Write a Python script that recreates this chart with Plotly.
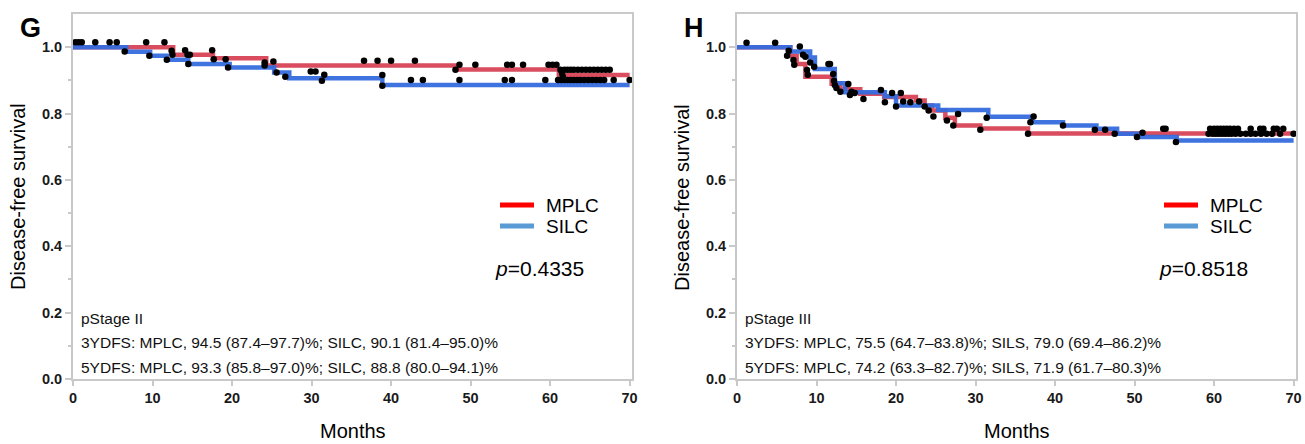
import plotly.graph_objects as go

W, H = 1305, 444

# ---------------- data ----------------
# Panel G (pStage II) Kaplan-Meier step curves
g_mplc_t = [0, 12.6, 17.6, 24.3, 48.3, 61.1, 70]
g_mplc_s = [1.0, 0.977, 0.967, 0.945, 0.933, 0.916, 0.916]
g_silc_t = [0, 6.7, 9.7, 11.8, 14.5, 19.7, 25.3, 27.2, 38.9, 70]
g_silc_s = [1.0, 0.986, 0.974, 0.962, 0.949, 0.939, 0.924, 0.906, 0.886, 0.886]
# censor marks
g_cens_t = [0.3, 0.7, 1.1, 2.8, 4.6, 5.5, 6.5, 9.2, 9.6, 11.5, 11.8, 12.4, 12.5, 14.1, 14.4, 14.7,
            14.5, 17.5, 17.7, 19.2, 19.5, 24.1, 24.1, 25.2, 25.6, 26.7, 29.9, 30.5, 31.6, 31.3,
            36.6, 38.3, 40.0, 43.0, 38.9, 38.9, 42.5, 44.0, 48.6, 48.1, 50.6, 48.6,
            54.6, 55.2, 56.6, 54.3, 55.2, 59.4, 59.8, 60.3, 60.8,
            61.3, 61.8, 62.2, 62.6, 63.0, 63.5, 64.0, 64.5, 65.0, 65.5, 66.0, 66.5, 67.0, 67.5,
            61.0, 61.4, 61.8, 62.2, 62.6, 63.0, 63.4, 63.8, 64.3, 64.8, 65.3, 65.8, 66.3, 66.8, 68.0, 70.0,
            61.5, 61.6]
g_cens_s = [1.015, 1.015, 1.015, 1.015, 1.015, 1.015, 0.987, 1.015, 0.974, 1.015, 0.962, 0.989, 0.977, 0.991, 0.977, 0.977,
            0.949, 0.991, 0.964, 0.964, 0.939, 0.954, 0.945, 0.957, 0.924, 0.911, 0.927, 0.927, 0.917, 0.899,
            0.959, 0.959, 0.959, 0.959, 0.916, 0.884, 0.901, 0.901, 0.947, 0.932, 0.947, 0.901,
            0.947, 0.947, 0.947, 0.901, 0.901, 0.901, 0.947, 0.947, 0.947,
            0.932, 0.932, 0.932, 0.932, 0.932, 0.932, 0.932, 0.932, 0.932, 0.932, 0.932, 0.932, 0.932, 0.932,
            0.901, 0.901, 0.901, 0.901, 0.901, 0.901, 0.901, 0.901, 0.901, 0.901, 0.901, 0.901, 0.901, 0.901, 0.901, 0.901,
            0.922, 0.912]

# Panel H (pStage III)
h_mplc_t = [0, 6.7, 7.5, 8.6, 11.9, 13.0, 15.5, 18.5, 22.5, 23.6, 24.5, 26.2, 27.4, 30.6, 36.6, 70]
h_mplc_s = [1.0, 0.974, 0.949, 0.911, 0.89, 0.873, 0.86, 0.85, 0.839, 0.824, 0.809, 0.787, 0.764, 0.755, 0.740, 0.740]
h_silc_t = [0, 6.7, 9.2, 9.8, 12.3, 13.6, 18.6, 20.0, 25.3, 31.6, 37.1, 41.0, 45.2, 47.8, 50.7, 55.3, 70]
h_silc_s = [1.0, 0.987, 0.969, 0.934, 0.891, 0.864, 0.852, 0.824, 0.811, 0.790, 0.774, 0.764, 0.754, 0.739, 0.729, 0.719, 0.719]
h_cens_t = [1.2, 4.8, 7.9, 6.5, 6.3, 7.1, 7.2, 8.3, 8.6, 9.2, 9.7, 8.8, 8.9, 11.5, 11.7,
            12.1, 12.2, 12.3, 12.5, 13.0, 14.0, 14.4, 14.2, 14.8, 15.9, 18.1, 18.6, 19.5, 20.0,
            20.6, 20.9, 21.8, 22.9, 23.6, 24.1, 24.7, 26.4, 27.2, 27.8, 30.6, 31.4,
            37.3, 36.9, 36.6, 41.0, 45.0, 46.3, 47.5, 50.3, 51.0, 53.6, 53.9, 55.2,
            59.5, 60.0, 60.4, 60.8, 61.2, 61.6, 62.0, 62.5, 63.0, 64.6, 65.8, 66.2, 67.5, 67.9, 68.7,
            59.3, 59.8, 60.2, 60.6, 61.0, 61.4, 61.8, 62.2, 62.7, 63.3, 64.0, 64.6, 65.2, 65.9, 66.6, 67.3, 68.3, 70.0]
h_cens_s = [1.013, 1.013, 1.002, 0.989, 0.974, 0.961, 0.947, 0.977, 0.971, 0.954, 0.941, 0.931, 0.917, 0.949, 0.949,
            0.919, 0.899, 0.886, 0.877, 0.866, 0.889, 0.866, 0.856, 0.862, 0.844, 0.871, 0.834, 0.862, 0.821,
            0.862, 0.836, 0.834, 0.836, 0.821, 0.809, 0.791, 0.779, 0.764, 0.799, 0.751, 0.787,
            0.791, 0.774, 0.739, 0.764, 0.751, 0.751, 0.739, 0.729, 0.742, 0.754, 0.754, 0.714,
            0.754, 0.754, 0.754, 0.754, 0.754, 0.754, 0.754, 0.754, 0.754, 0.754, 0.754, 0.754, 0.754, 0.754, 0.754,
            0.739, 0.739, 0.739, 0.739, 0.739, 0.739, 0.739, 0.739, 0.739, 0.739, 0.739, 0.739, 0.739, 0.739, 0.739, 0.739, 0.739, 0.739]

x_ticks = [0, 10, 20, 30, 40, 50, 60, 70]
y_ticks = [0.0, 0.2, 0.4, 0.6, 0.8, 1.0]

panel_letters = ["G", "H"]
p_values = ["0.4335", "0.8518"]
stage_lines = [
    ["pStage II",
     "3YDFS: MPLC, 94.5 (87.4–97.7)%; SILC, 90.1 (81.4–95.0)%",
     "5YDFS: MPLC, 93.3 (85.8–97.0)%; SILC, 88.8 (80.0–94.1)%"],
    ["pStage III",
     "3YDFS: MPLC, 75.5 (64.7–83.8)%; SILS, 79.0 (69.4–86.2)%",
     "5YDFS: MPLC, 74.2 (63.3–82.7)%; SILS, 71.9 (61.7–80.3)%"],
]
legend_names = ["MPLC", "SILC"]

# ---------------- style ----------------
RED = "rgba(214,62,80,0.92)"
BLUE = "rgba(52,108,222,0.95)"
LEG_RED = "#ff0000"
LEG_BLUE = "#5b9bd5"
AX = "#c9c9c9"


def fx(p):
    return p / W


def fy(p):
    return 1 - p / H


fig = go.Figure()

panels = [
    (g_mplc_t, g_mplc_s, g_silc_t, g_silc_s, g_cens_t, g_cens_s, "x", "y", 73, 632),
    (h_mplc_t, h_mplc_s, h_silc_t, h_silc_s, h_cens_t, h_cens_s, "x2", "y2", 737, 1296),
]

for i, (mt, ms, st, ss, ct, cs, xa, ya, x0, x1) in enumerate(panels):
    fig.add_trace(go.Scatter(x=mt, y=ms, mode="lines", line=dict(color=RED, width=4.5, shape="hv"),
                             xaxis=xa, yaxis=ya, showlegend=False, hoverinfo="skip"))
    fig.add_trace(go.Scatter(x=st, y=ss, mode="lines", line=dict(color=BLUE, width=4.5, shape="hv"),
                             xaxis=xa, yaxis=ya, showlegend=False, hoverinfo="skip"))
    fig.add_trace(go.Scatter(x=ct, y=cs, mode="markers", marker=dict(color="black", size=6.5),
                             xaxis=xa, yaxis=ya, showlegend=False, hoverinfo="skip", cliponaxis=False))

    # legend (drawn manually)
    lx0 = x0 + 427
    for j, (nm, col) in enumerate(zip(legend_names, [LEG_RED, LEG_BLUE])):
        yy = 205 + j * 21
        fig.add_shape(type="line", xref="paper", yref="paper", x0=fx(lx0), x1=fx(lx0 + 34),
                      y0=fy(yy), y1=fy(yy), line=dict(color=col, width=5))
        fig.add_annotation(xref="paper", yref="paper", x=fx(lx0 + 44), y=fy(yy), text=nm,
                           showarrow=False, xanchor="left", yanchor="middle",
                           font=dict(family="Arial, Liberation Sans", size=19, color="black"))
    fig.add_annotation(xref="paper", yref="paper", x=fx(lx0 - 7), y=fy(268),
                       text="<i>p</i>=" + p_values[i], showarrow=False, xanchor="left", yanchor="middle",
                       font=dict(family="Arial, Liberation Sans", size=21, color="black"))
    # stage text
    for k, line in enumerate(stage_lines[i]):
        fig.add_annotation(xref="paper", yref="paper", x=fx(x0 + 6), y=fy(318 + k * 24.5), text=line,
                           showarrow=False, xanchor="left", yanchor="middle",
                           font=dict(family="Arial, Liberation Sans", size=15.5, color="#111"))
    # panel letter
    fig.add_annotation(xref="paper", yref="paper", x=fx(x0 - 55), y=fy(28), text="<b>" + panel_letters[i] + "</b>",
                       showarrow=False, xanchor="left", yanchor="middle",
                       font=dict(family="Arial, Liberation Sans", size=27, color="black"))
    # axis titles
    fig.add_annotation(xref="paper", yref="paper", x=fx(x0 - 55), y=fy(197), text="Disease-free survival",
                       showarrow=False, textangle=-90, xanchor="center", yanchor="middle",
                       font=dict(family="Arial, Liberation Sans", size=20, color="black"))
    fig.add_annotation(xref="paper", yref="paper", x=fx((x0 + x1) / 2), y=fy(431), text="Months",
                       showarrow=False, xanchor="center", yanchor="middle",
                       font=dict(family="Arial, Liberation Sans", size=20, color="black"))

tickfont = dict(family="Arial, Liberation Sans", size=14.5, color="#1a1a1a", weight="bold")
common_x = dict(range=[0, 70.3], tickvals=x_ticks, ticktext=[str(v) for v in x_ticks],
                showline=True, linecolor=AX, linewidth=2, mirror=True, showgrid=False, zeroline=False,
                ticks="outside", ticklen=5, tickcolor=AX, tickwidth=1.5, tickfont=tickfont,
                automargin=False, fixedrange=True)
common_y = dict(range=[0, 1.1], tickvals=y_ticks, ticktext=["%.1f" % v for v in y_ticks],
                showline=True, linecolor=AX, linewidth=2, mirror=True, showgrid=False, zeroline=False,
                ticks="outside", ticklen=6, tickcolor=AX, tickwidth=1.5, tickfont=tickfont,
                minor=dict(tickvals=[0.1, 0.3, 0.5, 0.7, 0.9], ticks="outside", ticklen=3, tickcolor=AX),
                automargin=False, fixedrange=True)

yd = [fy(379), fy(14)]
fig.update_layout(
    width=W, height=H,
    margin=dict(l=0, r=0, t=0, b=0, autoexpand=False),
    paper_bgcolor="white", plot_bgcolor="white",
    showlegend=False,
    xaxis=dict(domain=[fx(73), fx(632)], anchor="y", **common_x),
    yaxis=dict(domain=yd, anchor="x", **common_y),
    xaxis2=dict(domain=[fx(737), fx(1296)], anchor="y2", **common_x),
    yaxis2=dict(domain=yd, anchor="x2", **common_y),
)

fig.write_html("out.html", config={"displayModeBar": False},
               post_script="document.body.style.margin='0';document.body.style.overflow='hidden';")
